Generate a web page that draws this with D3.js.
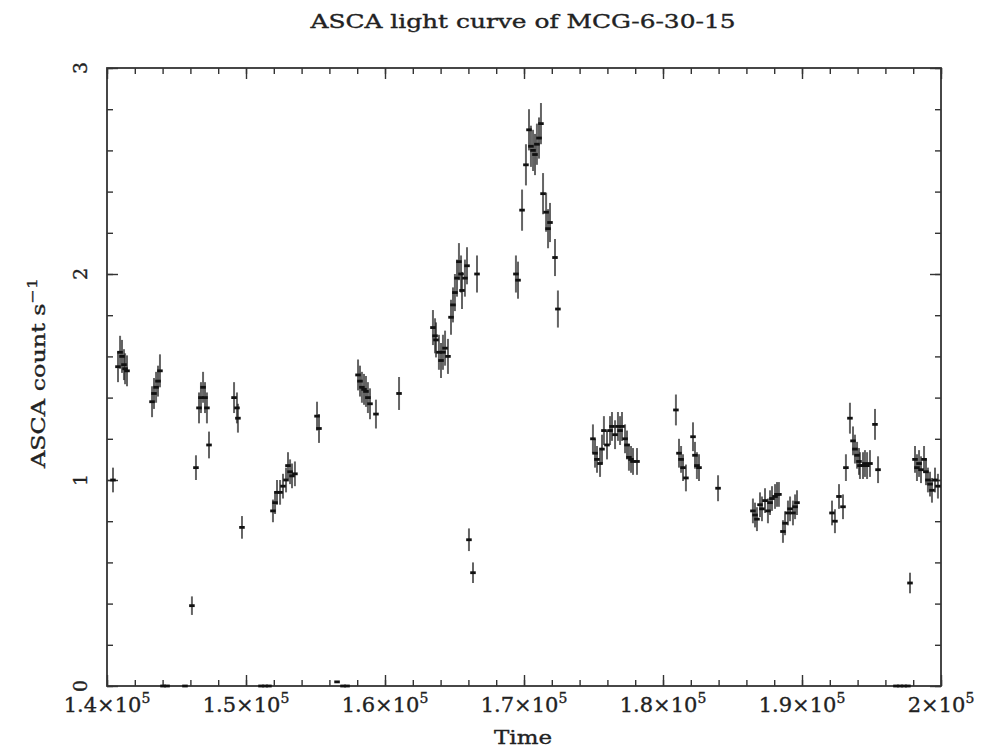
<!DOCTYPE html>
<html>
<head>
<meta charset="utf-8">
<script src="https://cdn.jsdelivr.net/npm/d3@7"></script>
<style>
  body { margin: 0; background: #fff; }
  text { font-family: "DejaVu Serif", "Liberation Serif", serif; fill: #222; stroke: #222; stroke-width: 0.35px; }
</style>
</head>
<body>
<script>
// ASCA light curve of MCG-6-30-15
var times = [
  140430, 140790, 140940, 141080, 141220, 141300, 141440,
  143240, 143380, 143530, 143670, 143810,
  146110, 146400, 146620, 146760, 146910, 147050, 147190, 147340,
  149140, 149350, 149420, 149710,
  151940, 152090, 152230, 152450, 152660, 152880, 153020, 153170, 153310, 153520,
  155110, 155250,
  158060, 158200, 158340, 158490, 158630, 158770, 158920, 159350,
  161010,
  163450, 163600, 163670, 163880, 164030, 164170, 164320, 164530, 164750, 164890,
  165030, 165180, 165320, 165470, 165540, 165750, 165900, 166040, 166330, 166620,
  169420, 169570, 169860, 170140, 170360, 170500, 170650, 170790, 170930, 171080,
  171220, 171370, 171590, 171730, 171870, 172230, 172440,
  174960, 175110, 175250, 175470, 175610, 175750, 175970, 176190, 176330, 176550,
  176760, 176910, 177050, 177270, 177410, 177550, 177700, 177840, 178130,
  180930, 181150, 181300, 181440, 181650, 182160, 182300, 182440, 182590, 183960,
  186470, 186620, 186760, 186980, 187120, 187340, 187550, 187700, 187840, 188060,
  188200, 188340, 188630, 188780, 188990, 189140, 189350, 189500, 189640,
  192160, 192370, 192660, 192950, 193160, 193450, 193670, 193810, 193960, 194100,
  194170, 194390, 194530, 194680, 194890, 195250, 195470,
  197770, 198130, 198270, 198420, 198560, 198780, 198920, 199060, 199210, 199350,
  199570, 199780
];
var rates = [
  1.00, 1.55, 1.62, 1.60, 1.56, 1.54, 1.53,
  1.38, 1.42, 1.45, 1.48, 1.53,
  0.39, 1.06, 1.35, 1.40, 1.45, 1.40, 1.35, 1.17,
  1.40, 1.35, 1.30, 0.77,
  0.85, 0.89, 0.94, 0.94, 0.97, 1.00, 1.07, 1.04, 1.02, 1.03,
  1.31, 1.25,
  1.51, 1.48, 1.45, 1.44, 1.43, 1.40, 1.37, 1.32,
  1.42,
  1.74, 1.70, 1.68, 1.62, 1.58, 1.62, 1.64, 1.60, 1.79, 1.85,
  1.91, 1.98, 2.06, 2.00, 1.92, 1.98, 2.04, 0.71, 0.55, 2.00,
  2.00, 1.97, 2.31, 2.53, 2.70, 2.62, 2.60, 2.58, 2.63, 2.66,
  2.73, 2.39, 2.30, 2.22, 2.25, 2.08, 1.83,
  1.20, 1.13, 1.10, 1.08, 1.15, 1.24, 1.17, 1.24, 1.26, 1.22,
  1.26, 1.24, 1.26, 1.20, 1.17, 1.11, 1.10, 1.09, 1.09,
  1.34, 1.13, 1.10, 1.06, 1.01, 1.21, 1.12, 1.07, 1.06, 0.96,
  0.85, 0.83, 0.81, 0.88, 0.86, 0.90, 0.85, 0.89, 0.91, 0.92,
  0.93, 0.93, 0.75, 0.79, 0.84, 0.86, 0.84, 0.87, 0.89,
  0.84, 0.80, 0.92, 0.87, 1.06, 1.30, 1.19, 1.15, 1.12, 1.09,
  1.07, 1.07, 1.08, 1.07, 1.08, 1.27, 1.05,
  0.50, 1.10, 1.06, 1.08, 1.05, 1.10, 1.04, 1.00, 0.98, 0.95,
  1.00, 0.97
];
var errors = [
  0.060, 0.075, 0.080, 0.080, 0.075, 0.075, 0.075,
  0.075, 0.075, 0.075, 0.075, 0.080,
  0.045, 0.060, 0.075, 0.075, 0.075, 0.075, 0.075, 0.065,
  0.075, 0.075, 0.070, 0.055,
  0.055, 0.055, 0.060, 0.060, 0.060, 0.060, 0.065, 0.060, 0.060, 0.060,
  0.070, 0.070,
  0.075, 0.075, 0.075, 0.075, 0.075, 0.075, 0.075, 0.070,
  0.080,
  0.085, 0.085, 0.085, 0.085, 0.085, 0.085, 0.085, 0.085, 0.085, 0.085,
  0.090, 0.090, 0.090, 0.090, 0.090, 0.090, 0.090, 0.055, 0.050, 0.090,
  0.090, 0.090, 0.100, 0.100, 0.100, 0.100, 0.100, 0.100, 0.100, 0.100,
  0.100, 0.100, 0.095, 0.095, 0.095, 0.090, 0.090,
  0.070, 0.070, 0.065, 0.065, 0.070, 0.070, 0.070, 0.070, 0.070, 0.070,
  0.070, 0.070, 0.070, 0.070, 0.070, 0.065, 0.065, 0.065, 0.065,
  0.075, 0.070, 0.065, 0.065, 0.065, 0.070, 0.065, 0.065, 0.065, 0.063,
  0.060, 0.060, 0.058, 0.060, 0.060, 0.060, 0.060, 0.060, 0.060, 0.060,
  0.060, 0.060, 0.055, 0.058, 0.060, 0.060, 0.060, 0.060, 0.060,
  0.060, 0.058, 0.060, 0.060, 0.065, 0.075, 0.070, 0.070, 0.065, 0.065,
  0.065, 0.065, 0.065, 0.065, 0.065, 0.075, 0.065,
  0.050, 0.065, 0.065, 0.065, 0.065, 0.065, 0.065, 0.060, 0.060, 0.060,
  0.060, 0.060
];
// bins with (near) zero counts, drawn on the x axis
var zeroTimes = [144030, 144320, 145610, 151080, 151370, 151650, 156550, 156980, 157270,
                 196760, 197050, 197340, 197620];
var zeroRates = [0, 0, 0, 0, 0, 0, 0.02, 0, 0, 0, 0, 0, 0];

var binHalf = 200;   // half width of a time bin (s)

var xTicks = [140000, 150000, 160000, 170000, 180000, 190000, 200000];
var xTickMantissa = ["1.4", "1.5", "1.6", "1.7", "1.8", "1.9", "2"];
var yTicks = [0, 1, 2, 3];

var width = 992, height = 750;
var plotL = 107, plotR = 941, plotT = 68, plotB = 686;

var svg = d3.select("body").append("svg")
    .attr("width", width)
    .attr("height", height);

var x = d3.scaleLinear().domain([140000, 200000]).range([plotL, plotR]);
var y = d3.scaleLinear().domain([0, 3]).range([plotB, plotT]);

// ticks on all four sides, pointing inwards (minor then major)
var minorX = d3.range(140000, 200001, 2000);
var minorY = d3.range(0, 3.001, 0.2);

function tickAxis(axis, vals, size, transform) {
    var g = svg.append("g")
        .attr("transform", transform)
        .call(axis.tickValues(vals).tickSize(size).tickFormat(""));
    g.select(".domain").remove();
    g.selectAll("line").attr("stroke", "#333").attr("stroke-width", 1.4);
}
tickAxis(d3.axisBottom(x), minorX, -6, "translate(0," + plotB + ")");
tickAxis(d3.axisBottom(x), xTicks, -11, "translate(0," + plotB + ")");
tickAxis(d3.axisTop(x), minorX, -6, "translate(0," + plotT + ")");
tickAxis(d3.axisTop(x), xTicks, -11, "translate(0," + plotT + ")");
tickAxis(d3.axisLeft(y), minorY, -6, "translate(" + plotL + ",0)");
tickAxis(d3.axisLeft(y), yTicks, -11, "translate(" + plotL + ",0)");
tickAxis(d3.axisRight(y), minorY, -6, "translate(" + plotR + ",0)");
tickAxis(d3.axisRight(y), yTicks, -11, "translate(" + plotR + ",0)");

// frame
svg.append("rect")
    .attr("x", plotL).attr("y", plotT)
    .attr("width", plotR - plotL).attr("height", plotB - plotT)
    .attr("fill", "none")
    .attr("stroke", "#333")
    .attr("stroke-width", 1.8);

// x tick labels  a x 10^5
var xl = svg.selectAll(".xlab")
    .data(xTicks)
    .enter().append("text")
    .attr("class", "xlab")
    .attr("x", function(d) { return x(d); })
    .attr("y", 712)
    .attr("text-anchor", "middle")
    .style("font-size", "21px");
xl.append("tspan").text(function(d, i) { return xTickMantissa[i] + "\u00d710"; });
xl.append("tspan").attr("dy", -9).style("font-size", "14px").text("5");

// y tick labels, rotated along the axis
svg.selectAll(".ylab")
    .data(yTicks)
    .enter().append("text")
    .attr("class", "ylab")
    .attr("transform", function(d) { return "translate(87," + y(d) + ") rotate(-90)"; })
    .attr("text-anchor", "middle")
    .style("font-size", "19px")
    .text(function(d) { return d; });

// title and axis labels
svg.append("text")
    .attr("x", 523).attr("y", 28)
    .attr("text-anchor", "middle")
    .attr("textLength", 425)
    .attr("lengthAdjust", "spacingAndGlyphs")
    .style("font-size", "18px")
    .text("ASCA light curve of MCG-6-30-15");

svg.append("text")
    .attr("x", 523).attr("y", 744)
    .attr("text-anchor", "middle")
    .attr("textLength", 58)
    .attr("lengthAdjust", "spacingAndGlyphs")
    .style("font-size", "19px")
    .text("Time");

var yl = svg.append("text")
    .attr("transform", "translate(45,373) rotate(-90)")
    .attr("text-anchor", "middle")
    .attr("textLength", 190)
    .attr("lengthAdjust", "spacingAndGlyphs")
    .style("font-size", "18px");
yl.append("tspan").text("ASCA count s");
yl.append("tspan").attr("dy", -8).style("font-size", "13px").text("\u22121");

// data: error bars and bin widths
var pts = times.map(function(t, i) { return {t: t, r: rates[i], e: errors[i]}; })
    .concat(zeroTimes.map(function(t, i) { return {t: t, r: zeroRates[i], e: 0}; }));

var marks = svg.append("g").attr("class", "points");

marks.selectAll(".ebar")
    .data(pts)
    .enter().append("line")
    .attr("class", "ebar")
    .attr("x1", function(d) { return x(d.t); })
    .attr("x2", function(d) { return x(d.t); })
    .attr("y1", function(d) { return y(d.r - d.e); })
    .attr("y2", function(d) { return y(d.r + d.e); })
    .attr("stroke", "#222")
    .attr("stroke-opacity", 0.7)
    .attr("stroke-width", 2);

marks.selectAll(".tbar")
    .data(pts)
    .enter().append("line")
    .attr("class", "tbar")
    .attr("x1", function(d) { return x(d.t - binHalf); })
    .attr("x2", function(d) { return x(d.t + binHalf); })
    .attr("y1", function(d) { return y(d.r); })
    .attr("y2", function(d) { return y(d.r); })
    .attr("stroke", "#111")
    .attr("stroke-width", 2.8);
</script>
</body>
</html>
